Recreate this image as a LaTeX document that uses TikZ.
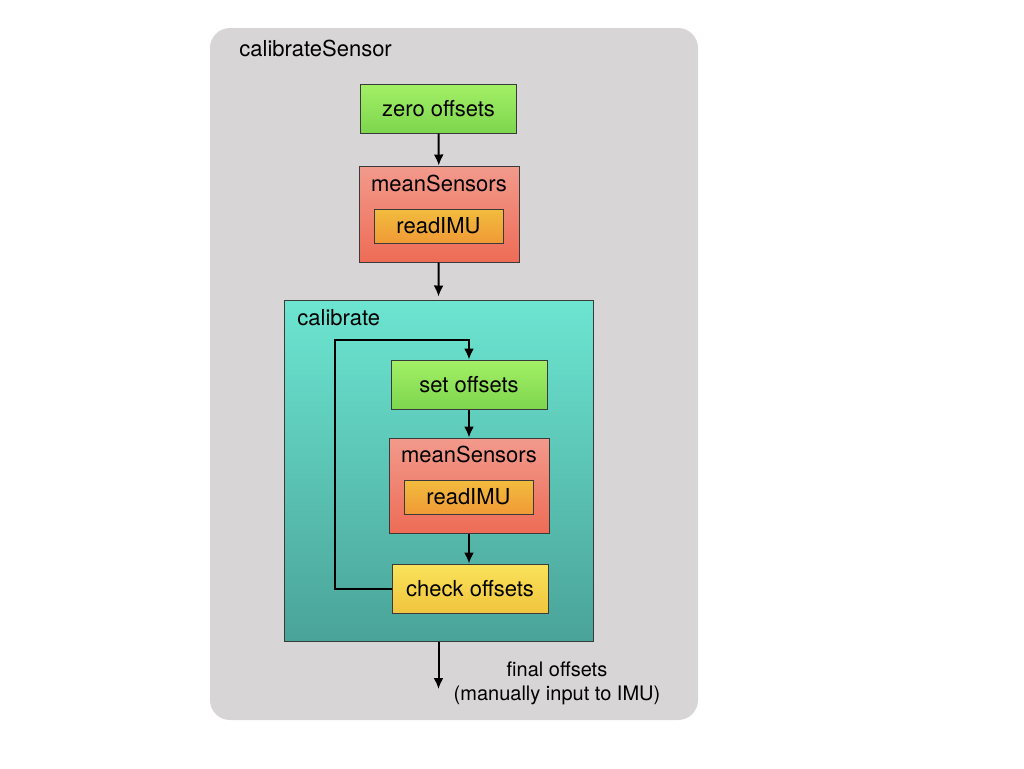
\documentclass[tikz,border=0pt]{standalone}
\usepackage{fontspec}
\setmainfont{TeX Gyre Heros}
\usetikzlibrary{arrows.meta}

\definecolor{panelgray}{HTML}{D7D5D6}
\definecolor{edgegray}{HTML}{3A3A3A}
\definecolor{greentop}{HTML}{A3F066}
\definecolor{greenbot}{HTML}{7DD64E}
\definecolor{redtop}{HTML}{F29A8C}
\definecolor{redbot}{HTML}{EE6C56}
\definecolor{orangetop}{HTML}{F2BC3E}
\definecolor{orangebot}{HTML}{F09A36}
\definecolor{yellowtop}{HTML}{F9E35A}
\definecolor{yellowbot}{HTML}{F1C43E}
\definecolor{tealtop}{HTML}{6CE5D1}
\definecolor{tealbot}{HTML}{4AA399}

\begin{document}
\begin{tikzpicture}[x=0.5pt, y=-0.5pt,
    every node/.style={font=\fontsize{11}{13}\selectfont, inner sep=0pt},
    box/.style={rectangle, draw=edgegray, line width=0.5pt},
    stepbox/.style={box, top color=greentop, bottom color=greenbot,
        minimum width=78pt, minimum height=24.5pt},
    meanbox/.style={box, top color=redtop, bottom color=redbot,
        minimum width=80pt, minimum height=48pt},
    imubox/.style={box, top color=orangetop, bottom color=orangebot,
        minimum width=64.5pt, minimum height=17pt},
    checkbox/.style={box, top color=yellowtop, bottom color=yellowbot,
        minimum width=78pt, minimum height=24.5pt},
    flow/.style={-{Latex[length=5.5pt,width=5pt]}, line width=1pt, black}]

    \useasboundingbox (0,0) rectangle (1024,768);

    % outer panel
    \fill[panelgray, rounded corners=10pt] (210,28) rectangle (698,720);
    \node[anchor=west] (title) at (239,48) {calibrateSensor};

    % first pass
    \node[stepbox] (zero) at (438.5,108.5) {zero offsets};
    \node[meanbox] (mean1) at (439,214) {};
    \node (mean1lbl) at (439,183) {meanSensors};
    \node[imubox] (imu1) at (438.5,226) {readIMU};

    % calibrate loop
    \node[box, top color=tealtop, bottom color=tealbot,
        minimum width=154.5pt, minimum height=170.5pt] (calib) at (438.5,470.5) {};
    \node[anchor=west] (caliblbl) at (297,318) {calibrate};
    \node[stepbox] (set) at (469,384.5) {set offsets};
    \node[meanbox, minimum height=47.5pt] (mean2) at (469,485.5) {};
    \node (mean2lbl) at (469,454) {meanSensors};
    \node[imubox] (imu2) at (468.5,497) {readIMU};
    \node[checkbox] (check) at (470,588.5) {check offsets};

    \coordinate (loop) at (335,340);
    \coordinate (out) at (438.5,689);
    \node[align=center, font=\fontsize{10}{12}\selectfont] (final) at (557,683)
        {final offsets\\(manually input to IMU)};

    % connectors
    \draw[flow] (zero) -- (mean1);
    \draw[flow] (mean1) -- ([yshift=1.5pt]calib.north);
    \draw[flow] (set) -- (set |- mean2.north);
    \draw[flow] (mean2) -- (mean2 |- check.north);
    \draw[flow] (check.west) -| (loop) -| (set.north);
    \draw[flow] (calib.south -| out) -- (out);
\end{tikzpicture}
\end{document}
